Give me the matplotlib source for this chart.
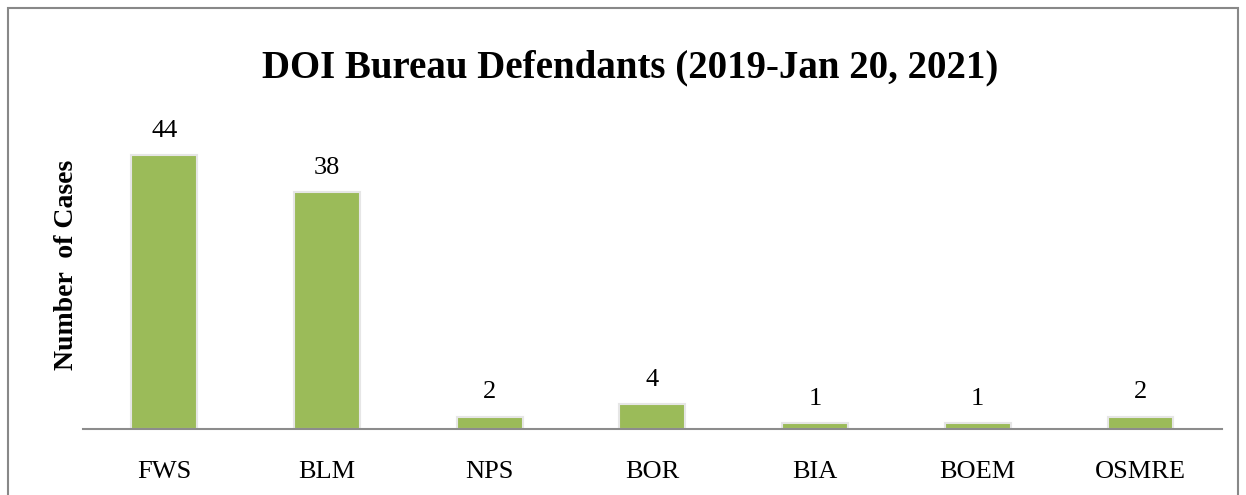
import matplotlib.pyplot as plt
from matplotlib.patches import Rectangle

bureaus = ['FWS', 'BLM', 'NPS', 'BOR', 'BIA', 'BOEM', 'OSMRE']
cases = [44, 38, 2, 4, 1, 1, 2]

plt.rcParams['font.family'] = ['Liberation Serif', 'DejaVu Serif']

fig = plt.figure(figsize=(12.46, 4.95), dpi=100)
ax = fig.add_axes([0.0666, 0.1333, 0.914, 0.6646])

bars = ax.bar(range(len(bureaus)), cases, width=0.405, color='#9BBB59',
              edgecolor='#e6e6e6', linewidth=1.5)
for i, v in enumerate(cases):
    ax.text(i, v + 2.1, str(v), ha='center', va='bottom', fontsize=19)

ax.set_xlim(-0.5, len(bureaus) - 0.5)
ax.set_ylim(0, 52.8)
ax.set_xticks(range(len(bureaus)))
ax.set_xticklabels(bureaus, fontsize=19)
ax.tick_params(axis='x', length=0, pad=23)
ax.set_yticks([])
for s in ['top', 'right', 'left']:
    ax.spines[s].set_visible(False)
ax.spines['bottom'].set_color('#8c8c8c')
ax.spines['bottom'].set_linewidth(1.5)

ax.set_ylabel('Number  of Cases', fontsize=20, fontweight='bold', labelpad=3)
fig.text(0.506, 0.862, 'DOI Bureau Defendants (2019-Jan 20, 2021)',
         ha='center', va='center', fontsize=28, fontweight='bold')

# outer border
fig.patches.append(Rectangle((8 / 1246, -0.05), 1230 / 1246, 1 - 8 / 495 + 0.05,
                             transform=fig.transFigure, fill=False,
                             edgecolor='#888888', linewidth=1.5))

fig.savefig('out.png', dpi=100)
